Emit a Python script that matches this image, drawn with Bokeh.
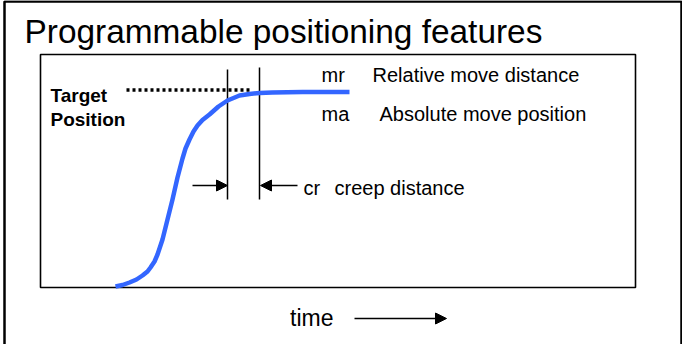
from bokeh.plotting import figure
from bokeh.models import Range1d, ColumnDataSource, Arrow, NormalHead
from bokeh.core.properties import value
from bokeh.embed import file_html
from bokeh.resources import INLINE

# ---- data (diagram coordinates) ----
curve_x = [123, 130, 137, 144, 150, 155, 158, 162, 165, 170, 175, 180, 185,
           190, 193, 197, 201, 205, 210, 217, 226, 235, 247, 257, 267, 280,
           310, 357]
curve_y = [294, 292.5, 290, 287, 283, 279, 275, 269, 262, 247, 227, 207, 185,
           166, 156, 147, 139, 133, 127.5, 122, 114, 108, 103, 101.5, 100.5,
           100, 99.5, 99.5]

target_x = [134, 257]
target_y = [97.5, 97.5]

marker_x = [235, 267]
marker_top = [77, 75]
marker_bottom = [207, 207]

arrow_x_start = [200, 305, 362]
arrow_x_end = [235, 268, 454]
arrow_y = [193, 193, 326]

label_text = ["mr", "Relative move distance", "ma", "Absolute move position",
              "cr", "creep distance"]
label_x = [329, 380, 329, 387, 311, 342]
label_y = [82, 82, 121, 121, 195, 195]

bold_text = ["Target", "Position"]
bold_x = [58, 58]
bold_y = [103, 127]

title_text = ["Programmable positioning features"]
title_x = [32]
title_y = [39]

axis_text = ["time"]
axis_x = [297.5]
axis_y = [325.5]

inner_box = dict(left=48, right=643, top=62, bottom=295)
outer_box_x = [12, 12, 689, 689]
outer_box_y = [360, 9, 9, 360]

# ---- figure ----
W, H = 682, 344
p = figure(width=W, height=H, output_backend="svg", toolbar_location=None,
           x_range=Range1d(8, 8 + W), y_range=Range1d(8 + H, 8),
           x_axis_location=None, y_axis_location=None, min_border=0,
           background_fill_color="white", border_fill_color="white")
p.outline_line_color = None
p.xgrid.visible = False
p.ygrid.visible = False

# outer slide frame
p.line(outer_box_x, outer_box_y, line_color="black", line_width=2.5)

# inner plot box
p.quad(left=[inner_box["left"]], right=[inner_box["right"]],
       top=[inner_box["top"]], bottom=[inner_box["bottom"]],
       fill_color=None, line_color="black", line_width=1.6)

# target dotted line
p.line(target_x, target_y, line_color="black", line_width=3.5,
       line_dash="3 3", line_cap="butt")

# creep markers
p.segment(x0=marker_x, y0=marker_top, x1=marker_x, y1=marker_bottom,
          line_color="black", line_width=1.5)

# motion curve
p.line(curve_x, curve_y, line_color="#3366ff", line_width=4.5,
       line_join="round")

# arrows
arrow_src = ColumnDataSource(dict(xs=arrow_x_start, xe=arrow_x_end, y=arrow_y))
p.add_layout(Arrow(end=NormalHead(size=11, fill_color="black", line_color="black",
                                  line_width=1),
                   x_start="xs", y_start="y", x_end="xe", y_end="y",
                   source=arrow_src, line_color="black", line_width=1.5))

# texts
font = value("Liberation Sans")
p.text(x=title_x, y=title_y, text=title_text, text_font=font,
       text_font_size=value("33.4px"), text_baseline="alphabetic",
       text_align="left", text_color="black")
p.text(x=label_x, y=label_y, text=label_text, text_font=font,
       text_font_size=value("20px"), text_baseline="alphabetic",
       text_align="left", text_color="black")
p.text(x=bold_x, y=bold_y, text=bold_text, text_font=font,
       text_font_size=value("19px"), text_font_style="bold",
       text_baseline="alphabetic", text_align="left", text_color="black")
p.text(x=axis_x, y=axis_y, text=axis_text, text_font=font,
       text_font_size=value("23px"), text_baseline="alphabetic",
       text_align="left", text_color="black")

open("out.html", "w").write(file_html(p, INLINE))
